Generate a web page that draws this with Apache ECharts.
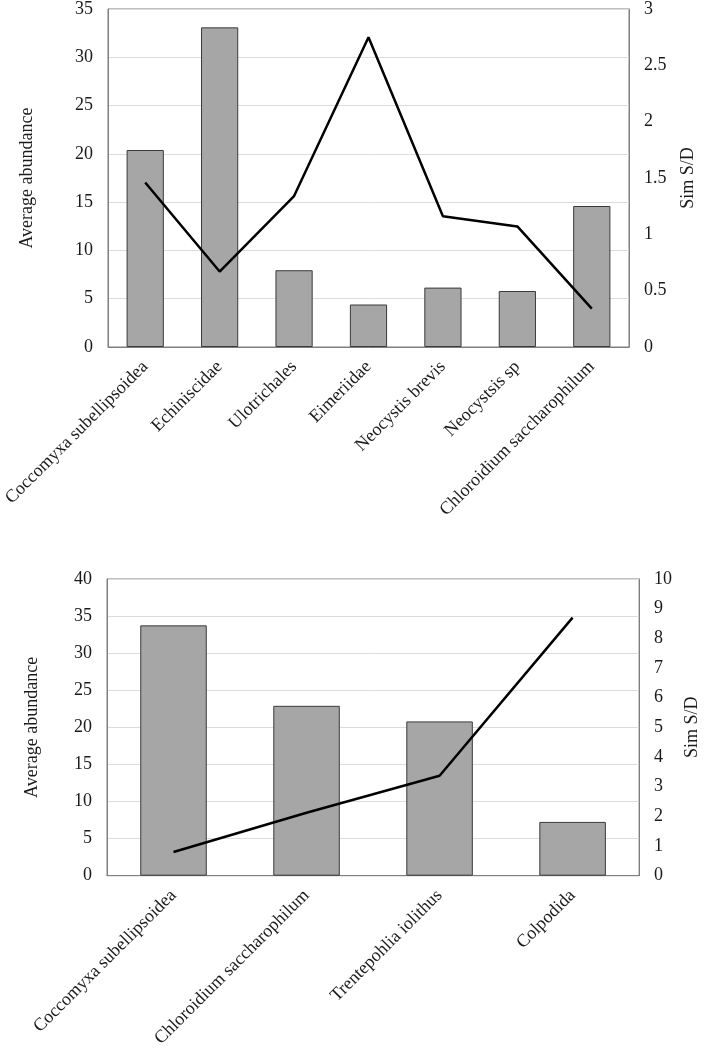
<!DOCTYPE html>
<html>
<head>
<meta charset="utf-8">
<script src="https://cdn.jsdelivr.net/npm/echarts@6/dist/echarts.min.js"></script>
<style>
  html, body { margin: 0; padding: 0; background: #fff; }
  #chart { width: 709px; height: 1050px; }
</style>
</head>
<body>
<div id="chart"></div>
<script>
// top panel
const topTaxa = ['Coccomyxa subellipsoidea', 'Echiniscidae', 'Ulotrichales', 'Eimeriidae',
  'Neocystis brevis', 'Neocystsis sp', 'Chloroidium saccharophilum'];
const topAbundance = [20.4, 33.1, 7.95, 4.4, 6.15, 5.8, 14.6];
const topSimSD = [1.46, 0.67, 1.34, 2.75, 1.16, 1.07, 0.34];

// bottom panel
const botTaxa = ['Coccomyxa subellipsoidea', 'Chloroidium saccharophilum', 'Trentepohlia iolithus', 'Colpodida'];
const botAbundance = [33.75, 22.9, 20.8, 7.25];
const botSimSD = [0.8, 2.12, 3.37, 8.7];

const serif = 'Liberation Serif';
const txt = '#1a1a1a';
const axisGray = '#7f7f7f';

const chart = echarts.init(document.getElementById('chart'));

function xAxis(grid, data) {
  return {
    type: 'category', gridIndex: grid, data: data,
    axisLine: { lineStyle: { color: axisGray } },
    axisTick: { lineStyle: { color: axisGray }, length: 5 },
    axisLabel: { rotate: 45, interval: 0, margin: 17, color: txt,
      fontFamily: serif, fontSize: 18 }
  };
}

function yAxis(grid, pos, max, interval, name, gap, split) {
  return {
    type: 'value', gridIndex: grid, position: pos, min: 0, max: max, interval: interval,
    name: name, nameLocation: 'middle', nameRotate: 90, nameGap: gap,
    nameTextStyle: { color: txt, fontFamily: serif, fontSize: 18 },
    axisLine: { show: true, lineStyle: { color: axisGray } },
    axisTick: { show: false },
    axisLabel: { color: txt, fontFamily: serif, fontSize: 18, margin: 15 },
    splitLine: { show: split, lineStyle: { color: '#dcdcdc', width: 1 } }
  };
}

const barStyle = { color: '#a6a6a6', borderColor: '#3a3a3a', borderWidth: 1 };
const lineStyle = { color: '#000', width: 2.5 };

chart.setOption({
  animation: false,
  backgroundColor: '#fff',
  grid: [
    { left: 107, top: 8, width: 522, height: 339, show: true, borderColor: axisGray, borderWidth: 1 },
    { left: 107, top: 579, width: 549, height: 297, show: true, borderColor: axisGray, borderWidth: 1 }
  ],
  xAxis: [xAxis(0, topTaxa), xAxis(1, botTaxa)],
  yAxis: [
    yAxis(0, 'left', 35, 5, 'Average abundance', 72, true),
    yAxis(0, 'right', 3, 0.5, 'Sim S/D', 50, false),
    yAxis(1, 'left', 40, 5, 'Average abundance', 66, true),
    yAxis(1, 'right', 10, 1, 'Sim S/D', 42, false)
  ],
  series: [
    { type: 'bar', xAxisIndex: 0, yAxisIndex: 0, data: topAbundance, barWidth: '50%', itemStyle: barStyle },
    { type: 'line', xAxisIndex: 0, yAxisIndex: 1, data: topSimSD, showSymbol: false, symbol: 'none', lineStyle: lineStyle },
    { type: 'bar', xAxisIndex: 1, yAxisIndex: 2, data: botAbundance, barWidth: '50%', itemStyle: barStyle },
    { type: 'line', xAxisIndex: 1, yAxisIndex: 3, data: botSimSD, showSymbol: false, symbol: 'none', lineStyle: lineStyle }
  ]
});
</script>
</body>
</html>
